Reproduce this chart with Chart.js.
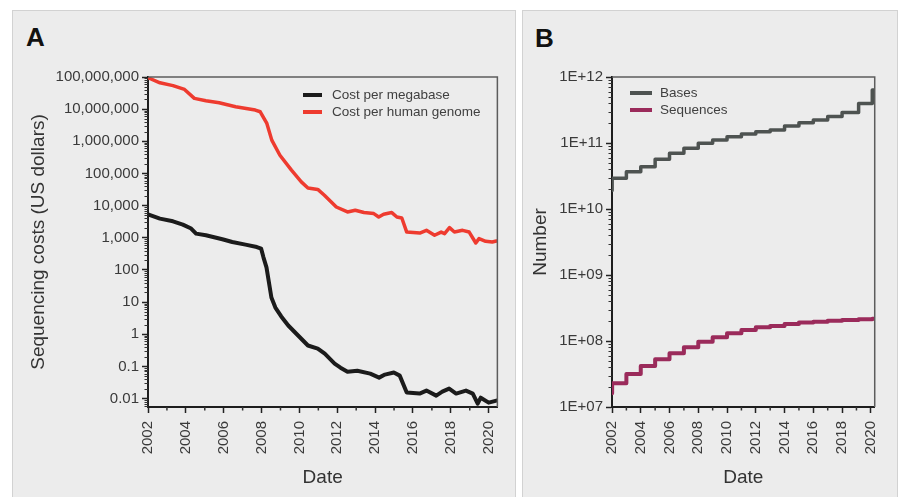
<!DOCTYPE html>
<html><head><meta charset="utf-8">
<script src="https://cdn.jsdelivr.net/npm/chart.js@4.4.1/dist/chart.umd.min.js"></script>
<style>
html,body{margin:0;padding:0;background:#fff;width:900px;height:497px;overflow:hidden;font-family:"Liberation Sans",Arial,sans-serif;}
.panel{position:absolute;background:#ececec;border:1px solid #d2d2d2;box-sizing:border-box;}
#pa{left:12px;top:10px;width:504px;height:500px;}
#pb{left:522px;top:10px;width:376px;height:500px;}
.holder{position:absolute;}
#ha{left:12px;top:10px;width:503px;height:487px;}
#hb{left:523px;top:10px;width:374px;height:487px;}
.letter{position:absolute;font-weight:bold;font-size:26px;line-height:26px;color:#111;}
canvas{display:block;}
</style></head>
<body>
<div class="panel" id="pa"></div>
<div class="panel" id="pb"></div>
<div class="letter" style="left:26px;top:24px;">A</div>
<div class="letter" style="left:535px;top:25px;">B</div>
<div class="holder" id="ha"><canvas id="ca" width="503" height="487"></canvas></div>
<div class="holder" id="hb"><canvas id="cb" width="374" height="487"></canvas></div>
<script>
// ---------- Panel A data ----------
const megabaseYears = [2002.0,2002.63,2003.32,2003.84,2004.28,2004.54,2005.06,2005.93,2006.45,2007.15,2007.75,2007.98,2008.10,2008.26,2008.52,2008.73,2009.04,2009.41,2009.93,2010.45,2010.97,2011.34,2011.86,2012.17,2012.54,2013.06,2013.74,2014.21,2014.52,2014.99,2015.30,2015.67,2016.35,2016.71,2017.23,2017.55,2017.91,2018.28,2018.80,2019.16,2019.42,2019.58,2020.0,2020.41];
const megabaseCost  = [5400,3960,3270,2580,1940,1350,1200,900,740,614,517,461,247,120,14,6.8,3.6,1.88,0.92,0.45,0.36,0.25,0.123,0.092,0.069,0.074,0.060,0.045,0.056,0.065,0.052,0.0155,0.0144,0.0178,0.0124,0.0165,0.0205,0.0144,0.0178,0.0144,0.0070,0.0107,0.0075,0.0087];
const genomeYears = [2002.0,2002.63,2003.32,2003.93,2004.45,2005.06,2005.76,2006.63,2007.67,2007.93,2008.28,2008.54,2008.97,2009.58,2010.10,2010.45,2010.97,2011.32,2011.95,2012.54,2012.95,2013.41,2013.93,2014.19,2014.45,2014.88,2015.15,2015.41,2015.67,2016.36,2016.71,2017.14,2017.49,2017.67,2017.93,2018.19,2018.62,2018.97,2019.32,2019.49,2019.84,2020.19,2020.41];
const genomeCost  = [95000000,66000000,54000000,41000000,21700000,18300000,15800000,11900000,9400000,8300000,3600000,1090000,370000,127000,55000,35600,32000,21000,9100,6370,7200,6100,5670,4450,5400,6100,4450,4140,1510,1410,1710,1200,1510,1350,2080,1510,1710,1510,690,945,780,740,795];
const yTicksA = [0.01,0.1,1,10,100,1000,10000,100000,1000000,10000000,100000000];
const yTickLabelsA = ['0.01','0.1','1','10','100','1,000','10,000','100,000','1,000,000','10,000,000','100,000,000'];

// ---------- Panel B data ----------
const yearsB = [2002,2002.01,2003,2004,2005,2006,2007,2008,2009,2010,2011,2012,2013,2014,2015,2016,2017,2018,2019.15,2020.1,2020.3];
const basesB = [1.9e10,2.92e10,3.67e10,4.37e10,5.66e10,6.98e10,8.3e10,9.9e10,1.11e11,1.24e11,1.37e11,1.48e11,1.57e11,1.81e11,2.03e11,2.23e11,2.51e11,2.89e11,3.98e11,6.35e11,6.35e11];
const sequencesB = [1.61e7,2.29e7,3.16e7,4.18e7,5.28e7,6.52e7,8.04e7,9.77e7,1.14e8,1.31e8,1.47e8,1.61e8,1.69e8,1.81e8,1.90e8,1.96e8,2.03e8,2.08e8,2.13e8,2.18e8,2.18e8];
const yTicksB = [1e7,1e8,1e9,1e10,1e11,1e12];
const yTickLabelsB = ['1E+07','1E+08','1E+09','1E+10','1E+11','1E+12'];

// ---------- shared ----------
const xTicks = [2002,2004,2006,2008,2010,2012,2014,2016,2018,2020];
const xTickLabels = ['2002','2004','2006','2008','2010','2012','2014','2016','2018','2020'];

Chart.defaults.font.family = '"Liberation Sans", Arial, sans-serif';
Chart.defaults.color = '#3a3a3a';

const pts = (xs, ys) => xs.map((x, i) => ({x: x, y: ys[i]}));

const framePlugin = {
  id: 'frame',
  afterDatasetsDraw(chart, args, o) {
    const {ctx, chartArea: a, scales} = chart;
    ctx.save();
    // top & right frame
    ctx.strokeStyle = '#5c5c5c'; ctx.lineWidth = 1.5;
    ctx.beginPath(); ctx.moveTo(a.left, a.top); ctx.lineTo(a.right, a.top); ctx.lineTo(a.right, a.bottom); ctx.stroke();
    // minor y ticks
    const ys = scales.y;
    ctx.strokeStyle = '#333'; ctx.lineWidth = 1;
    for (let e = Math.floor(Math.log10(ys.min)); e <= Math.ceil(Math.log10(ys.max)); e++) {
      for (let k = 2; k <= 9; k++) {
        const v = k * Math.pow(10, e);
        if (v <= ys.min || v >= ys.max) continue;
        const py = Math.round(ys.getPixelForValue(v)) + 0.5;
        ctx.beginPath(); ctx.moveTo(a.left - 3.5, py); ctx.lineTo(a.left, py); ctx.stroke();
      }
    }
    // minor x ticks (midway between labelled ticks)
    const xs = scales.x;
    ctx.lineWidth = 1.5;
    for (let i = 0; i < xs.ticks.length - 1; i++) {
      const v = (xs.ticks[i].value + xs.ticks[i + 1].value) / 2;
      const px = xs.getPixelForValue(v);
      ctx.beginPath(); ctx.moveTo(px, a.bottom); ctx.lineTo(px, a.bottom + 3.5); ctx.stroke();
    }
    // legend inside the plot
    ctx.font = '13.5px "Liberation Sans", Arial, sans-serif';
    ctx.textBaseline = 'middle';
    chart.data.datasets.forEach((ds, i) => {
      const y = a.top + o.dy + i * o.row;
      const x = a.left + o.dx;
      ctx.strokeStyle = ds.borderColor; ctx.lineWidth = 4; ctx.lineCap = 'butt';
      ctx.beginPath(); ctx.moveTo(x, y); ctx.lineTo(x + o.len, y); ctx.stroke();
      ctx.fillStyle = '#404040';
      ctx.fillText(ds.label, x + o.len + o.gap, y + 0.5);
    });
    ctx.restore();
  }
};

function makeOptions(c) {
  return {
    responsive: false, animation: false, devicePixelRatio: 1,
    layout: {padding: {top: 67, right: c.padRight, left: 0, bottom: 0}},
    plugins: {legend: {display: false}, tooltip: {enabled: false}, frame: c.legend},
    elements: {point: {radius: 0}, line: {tension: 0, borderJoinStyle: 'round', borderCapStyle: 'round'}},
    scales: {
      x: {
        type: 'linear', min: 2002, max: c.xMax,
        afterBuildTicks: s => { s.ticks = xTicks.map(v => ({value: v})); },
        afterFit: s => { s.height = 90; },
        ticks: {autoSkip: false, maxRotation: 90, minRotation: 90, padding: 8, font: {size: 15}, color: '#3a3a3a',
                callback: (v, i) => xTickLabels[i]},
        grid: {display: true, drawOnChartArea: false, tickLength: 6, tickColor: '#222', tickWidth: 1.5},
        border: {display: true, color: '#1e1e1e', width: 2},
        title: {display: true, text: 'Date', font: {size: 19}, color: '#333', padding: {top: 0, bottom: 8}}
      },
      y: {
        type: 'logarithmic', min: c.yMin, max: c.yMax,
        afterBuildTicks: s => { s.ticks = c.yTicks.map(v => ({value: v})); },
        afterFit: s => { s.width = c.yWidth; },
        ticks: {autoSkip: false, padding: 3, font: {size: 15}, color: '#3a3a3a',
                callback: (v, i) => c.yLabels[i]},
        grid: {display: true, drawOnChartArea: false, tickLength: 6, tickColor: '#222', tickWidth: 1.5},
        border: {display: true, color: '#1e1e1e', width: 2},
        title: {display: true, text: c.yTitle, font: {size: 19}, color: '#333', padding: {top: c.titlePad, bottom: 0}}
      }
    }
  };
}

new Chart(document.getElementById('ca'), {
  type: 'line',
  data: {datasets: [
    {label: 'Cost per megabase', data: pts(megabaseYears, megabaseCost), borderColor: '#1b1b1b', borderWidth: 4},
    {label: 'Cost per human genome', data: pts(genomeYears, genomeCost), borderColor: '#ee3b2f', borderWidth: 3.5}
  ]},
  options: makeOptions({padRight: 13, xMax: 2020.46, yMin: 0.0055, yMax: 1e8, yTicks: yTicksA, yLabels: yTickLabelsA,
    yWidth: 136, yTitle: 'Sequencing costs (US dollars)', titlePad: 15,
    legend: {dx: 155, dy: 18, row: 17, len: 19, gap: 10}}),
  plugins: [framePlugin]
});

new Chart(document.getElementById('cb'), {
  type: 'line',
  data: {datasets: [
    {label: 'Bases', data: pts(yearsB, basesB), borderColor: '#4e5351', borderWidth: 3.5, stepped: true},
    {label: 'Sequences', data: pts(yearsB, sequencesB), borderColor: '#9b2b5b', borderWidth: 4, stepped: true}
  ]},
  options: makeOptions({padRight: 11, xMax: 2020.27, yMin: 1e7, yMax: 1e12, yTicks: yTicksB, yLabels: yTickLabelsB,
    yWidth: 89, yTitle: 'Number', titlePad: 6,
    legend: {dx: 18, dy: 16, row: 17, len: 22, gap: 8}}),
  plugins: [framePlugin]
});
</script>
</body></html>
